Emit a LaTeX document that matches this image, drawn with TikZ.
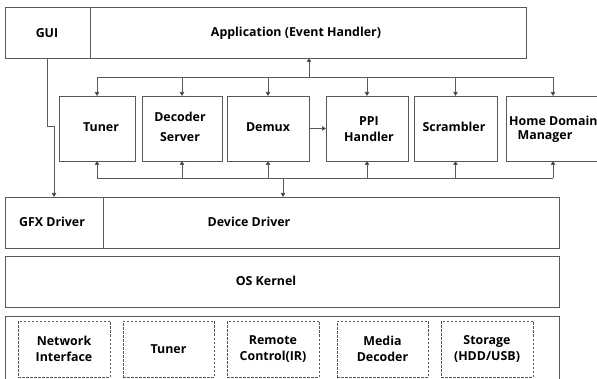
\documentclass[tikz,border=0pt]{standalone}
\usepackage{fontspec}
\setmainfont{Open Sans}
\usetikzlibrary{arrows.meta}
\begin{document}
\begin{tikzpicture}[x=1pt,y=-1pt,
  box/.style={draw=black!65,line width=0.9pt,inner sep=0pt,outer sep=0pt,anchor=north west},
  dbox/.style={box,dashed,dash pattern=on 2.5pt off 1.5pt,line width=0.7pt},
  lbl/.style={font=\fontsize{12.4}{15}\selectfont\bfseries,align=center,inner sep=0pt},
  wire/.style={draw=black!65,line width=0.9pt},
  arr/.style={wire,-{Triangle[length=4pt,width=4.5pt,fill=black]}}]
\useasboundingbox (0,0) rectangle (597,379);
\clip (0,0) rectangle (597,379);
\fill[white] (0,0) rectangle (597,379);
% top layer
\node[box,minimum width=85pt,minimum height=51pt] (gui) at (5,7) {};
\node[box,minimum width=436pt,minimum height=51pt] (app) at (90,7) {};
\node[lbl] (guit) at (47,33) {GUI};
\node[lbl] (appt) at (296,33) {Application (Event Handler)};
% middle row
\node[box,minimum width=76pt,minimum height=65pt] (tuner) at (59,96) {};
\node[box,minimum width=80pt,minimum height=65pt] (dec) at (142,96) {};
\node[box,minimum width=82pt,minimum height=65pt] (demux) at (227,96) {};
\node[box,minimum width=82pt,minimum height=65pt] (ppi) at (326,96) {};
\node[box,minimum width=83pt,minimum height=65pt] (scr) at (414,96) {};
\node[box,minimum width=94pt,minimum height=65pt] (home) at (506,96) {};
\node[lbl] at (101,127) {Tuner};
\node[lbl,font=\fontsize{12.4}{20}\selectfont\bfseries] at (180,127) {Decoder\\Server};
\node[lbl] at (268,127) {Demux};
\node[lbl,font=\fontsize{12.4}{16}\selectfont\bfseries] at (369,129) {PPI\\Handler};
\node[lbl] at (454,127) {Scrambler};
\node[lbl,anchor=west] at (509,121) {Home Domain};
\node[lbl] at (545,137) {Manager};
% buses
\coordinate (ubL) at (97,77);
\coordinate (ubR) at (553,77);
\coordinate (lbL) at (97,178);
\coordinate (lbR) at (553,178);
\draw[wire] (ubL) -- (ubR);
\draw[wire] (lbL) -- (lbR);
\draw[arr] (309,77) -- (app.south -| 309,0);
\foreach \n in {tuner,dec,demux,ppi,scr,home}{
  \draw[arr] (\n.north |- ubL) -- (\n.north);
  \draw[arr] (\n.south |- lbL) -- (\n.south);
}
\draw[arr] (demux.east) -- (ppi.west);
% driver layer
\node[box,minimum width=98pt,minimum height=51pt] (gfx) at (5,197) {};
\node[box,minimum width=456pt,minimum height=51pt] (dev) at (103,197) {};
\node[lbl] at (52,222) {GFX Driver};
\node[lbl] at (249,222) {Device Driver};
\draw[arr] (283,178) -- (dev.north -| 283,0);
\draw[arr] (gui.south) -- ++(0,68) -| (gfx.north);
% os
\node[box,minimum width=554pt,minimum height=51pt] (os) at (5,256) {};
\node[lbl] at (266,281) {OS Kernel};
% hardware
\node[box,minimum width=554pt,minimum height=75pt] (hw) at (5,316) {};
\node[dbox,minimum width=92pt,minimum height=56pt] (net) at (18,321) {};
\node[dbox,minimum width=91pt,minimum height=56pt] (tun2) at (123,321) {};
\node[dbox,minimum width=92pt,minimum height=56pt] (rem) at (227,321) {};
\node[dbox,minimum width=91pt,minimum height=56pt] (med) at (337,321) {};
\node[dbox,minimum width=92pt,minimum height=56pt] (sto) at (441,321) {};
\tikzset{hl/.style={lbl,font=\fontsize{12.4}{16.5}\selectfont\bfseries}}
\node[hl] at (net) {Network\\Interface};
\node[hl] at (tun2) {Tuner};
\node[hl] at (rem) {Remote\\Control(IR)};
\node[hl] at (med) {Media\\Decoder};
\node[hl] at (sto) {Storage\\(HDD/USB)};
\end{tikzpicture}
\end{document}
